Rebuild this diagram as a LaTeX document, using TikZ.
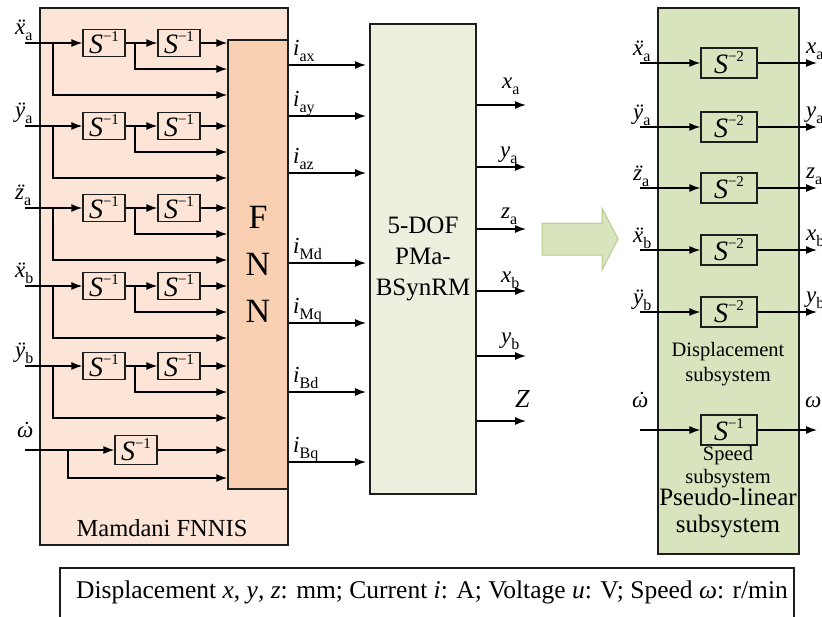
\documentclass[tikz,border=0pt]{standalone}
\usepackage{fontspec}
\setmainfont{Liberation Serif}
\usetikzlibrary{arrows.meta,calc}
\newcommand\fs[1]{\fontsize{#1}{#1}\selectfont}
\newcommand\sbs[1]{\raisebox{-0.3em}{\fs{16}#1}}
\newcommand\ddt[1]{\ooalign{\textit{#1}\cr\hidewidth\kern0.15em\char"00A8\relax\hidewidth\cr}}
\newcommand\sdt[1]{\ooalign{\textit{#1}\cr\hidewidth\kern0.15em\char"02D9\relax\hidewidth\cr}}
\newcommand\sop[1]{\textit{S}\raisebox{0.42em}{\fs{15}\char"2212\relax #1}}
\definecolor{peach}{RGB}{252,229,214}
\definecolor{fnnc}{RGB}{249,208,178}
\definecolor{pmac}{RGB}{235,241,222}
\definecolor{grn}{RGB}{215,228,189}
\definecolor{grnd}{RGB}{183,205,142}
\definecolor{edge}{RGB}{30,30,30}
\tikzset{
  sbox/.style={draw=edge, line width=1.3pt, minimum width=42pt, minimum height=27pt, inner sep=0pt, font=\fs{28}},
  rbox/.style={draw=edge, line width=1.3pt, minimum width=56pt, minimum height=30pt, inner sep=0pt, font=\fs{28}},
  arr/.style={-{Latex[length=11pt,width=8pt]}, line width=1.3pt},
  lbl/.style={inner sep=0pt, font=\fs{23}},
  bigbox/.style={draw=edge, line width=1.5pt, inner sep=0pt},
}
\begin{document}
\begin{tikzpicture}[x=1pt,y=-1pt]
\useasboundingbox (0,0) rectangle (822,616);
% outer Mamdani box
\node[bigbox, fill=peach, minimum width=248pt, minimum height=537pt] (mam) at (164,276.5) {};
\node[font=\fs{24.5}, inner sep=0pt] (mamt) at (162,528) {Mamdani FNNIS};
% FNN
\node[bigbox, fill=fnnc, minimum width=60pt, minimum height=449pt, align=center, font=\fontsize{34}{47}\selectfont] (fnn) at (258,264.5) {F\\N\\N};
% PMa box
\node[bigbox, fill=pmac, minimum width=106pt, minimum height=470pt, align=center, font=\fontsize{25}{31}\selectfont] (pma) at (423,259) {5-DOF\\PMa-\\BSynRM};
% right box
\node[bigbox, fill=grn, minimum width=141pt, minimum height=546pt] (rsys) at (728.5,281) {};
% rows of left part
\foreach \n/\y/\lab in {xa/43/{\ddt{x}\sbs{a}}, ya/126/{\ddt{y}\sbs{a}}, za/208/{\ddt{z}\sbs{a}}, xb/286/{\ddt{x}\sbs{b}}, yb/366/{\ddt{y}\sbs{b}}}{
  \coordinate (\n0) at (25,\y);
  \coordinate (\n p) at (53,\y);
  \coordinate (\n q) at (135,\y);
  \coordinate (\n pp) at (53,\y+52);
  \coordinate (\n qq) at (135,\y+26);
  \node[sbox] (\n1) at (104,\y) {\sop{1}};
  \node[sbox] (\n2) at (179,\y) {\sop{1}};
  \node[lbl, anchor=base west] (\n L) at (15,\y-9) {\lab};
  \draw[arr] (\n0) -- (\n1);
  \draw[arr] (\n1) -- (\n2);
  \draw[arr] (\n2) -- (\n2 -| fnn.west);
  \draw[arr] (\n q) -- (\n qq) -- (\n qq -| fnn.west);
  \draw[arr] (\n p) -- (\n pp) -- (\n pp -| fnn.west);
}
% omega row
\coordinate (w0) at (25,450);
\coordinate (wp) at (68,450);
\coordinate (wpp) at (68,478);
\node[sbox, minimum height=29pt] (w1) at (136,450) {\sop{1}};
\node[lbl, anchor=base west] (wL) at (17,437) {\sdt{ω}};
\draw[arr] (w0) -- (w1);
\draw[arr] (w1) -- (w1 -| fnn.west);
\draw[arr] (wp) -- (wpp) -- (wpp -| fnn.west);
% FNN outputs
\foreach \n/\y in {ax/65, ay/116, az/173, Md/263, Mq/323, Bd/392, Bq/462}{
  \coordinate (o\n) at (366,\y);
  \draw[arr] (o\n -| fnn.east) -- (o\n);
  \node[lbl, anchor=base west] (oL\n) at (293,\y-10) {\textit{i}\sbs{\n}};
}
% PMa outputs
\foreach \n/\y/\ly/\lx/\lab in {xa/105/88/502/{\textit{x}\sbs{a}}, ya/167/157/500/{\textit{y}\sbs{a}}, za/229/218/501/{\textit{z}\sbs{a}}, xb/291/282/501/{\textit{x}\sbs{b}}, yb/356/343/501/{\textit{y}\sbs{b}}}{
  \coordinate (m\n) at (526,\y);
  \draw[arr] (m\n -| pma.east) -- (m\n);
  \node[lbl, anchor=base west] (mL\n) at (\lx,\ly) {\lab};
}
\coordinate (mZ) at (526,421);
\draw[arr] (mZ -| pma.east) -- (mZ);
\node[inner sep=0pt, font=\fs{26}, anchor=base west] (mLZ) at (515,407) {\textit{Z}};
% big arrow
\draw[fill=grn, draw=grnd, line width=1pt] (542,223) -- (602,223) -- (602,208) -- (618,239) -- (602,270) -- (602,255) -- (542,255) -- cycle;
% right subsystem rows
\foreach \n/\y/\lab/\olab in {xa/63/{\ddt{x}\sbs{a}}/{\textit{x}\sbs{a}}, ya/127/{\ddt{y}\sbs{a}}/{\textit{y}\sbs{a}}, za/188/{\ddt{z}\sbs{a}}/{\textit{z}\sbs{a}}, xb/250/{\ddt{x}\sbs{b}}/{\textit{x}\sbs{b}}, yb/312/{\ddt{y}\sbs{b}}/{\textit{y}\sbs{b}}}{
  \node[rbox] (r\n) at (729,\y) {\sop{2}};
  \coordinate (ri\n) at (640,\y);
  \coordinate (ro\n) at (817,\y);
  \draw[arr] (ri\n) -- (r\n);
  \draw[arr] (r\n) -- (ro\n);
  \node[lbl, anchor=base west] (riL\n) at (633,\y-8) {\lab};
  \node[lbl, anchor=base west] (roL\n) at (806,\y-10) {\olab};
}
\node[rbox] (rw) at (729,430) {\sop{1}};
\coordinate (riw) at (640,430);
\coordinate (row) at (817,430);
\draw[arr] (riw) -- (rw);
\draw[arr] (rw) -- (row);
\node[lbl, anchor=base west] (riLw) at (632,407) {\sdt{ω}};
\node[lbl, anchor=base west] (roLw) at (805,407) {\textit{ω}};
% texts in right box
\node[inner sep=0pt, align=center, font=\fontsize{20.5}{25}\selectfont] (dtxt) at (728,364) {Displacement\\subsystem};
\node[inner sep=0pt, align=center, font=\fontsize{20.5}{23}\selectfont] (stxt) at (728,467) {Speed\\subsystem};
\node[inner sep=0pt, align=center, font=\fontsize{25}{27}\selectfont] (ptxt) at (728,513) {Pseudo-linear\\subsystem};
% legend
\node[draw=edge, line width=1.3pt, minimum width=734pt, minimum height=54pt, inner sep=0pt] (leg) at (427,595) {};
\node[inner sep=0pt, font=\fs{25.5}] (legt) at (432,592) {Displacement \textit{x}, \textit{y}, \textit{z}: mm; Current \textit{i}: A; Voltage \textit{u}: V; Speed \textit{ω}: r/min};
\end{tikzpicture}
\end{document}
